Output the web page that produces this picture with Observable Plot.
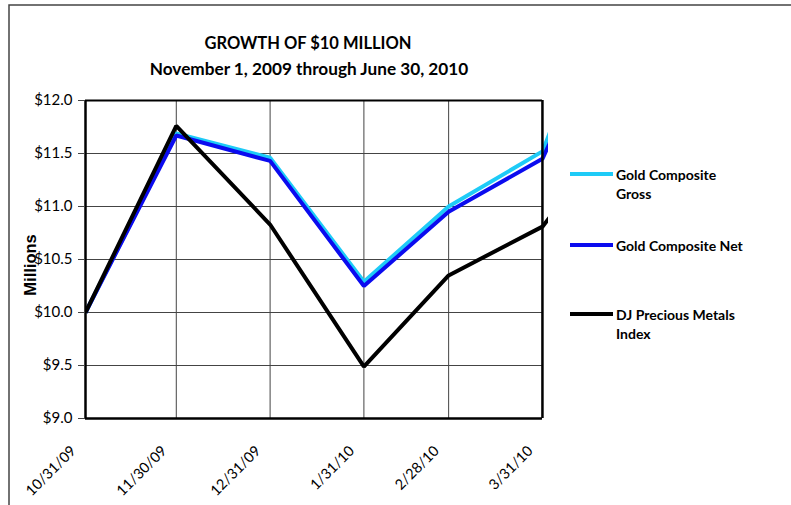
<!DOCTYPE html>
<html><head><meta charset="utf-8">
<script src="https://cdn.jsdelivr.net/npm/d3@7"></script>
<script src="https://cdn.jsdelivr.net/npm/@observablehq/plot@0.6"></script>
<style>
html,body{margin:0;padding:0;background:#fff;} svg{display:block}
#chart g[aria-label="y-axis tick label"], #chart g[aria-label="y-axis tick label"] text { font-size: 15px !important; }
#chart g[aria-label="x-axis tick label"], #chart g[aria-label="x-axis tick label"] text { font-size: 14.5px !important; }
</style>
</head><body><div id="chart"></div>
<script>
// ---- data ----
const dates = ["2009-10-31","2009-11-30","2009-12-31","2010-01-31","2010-02-28","2010-03-31","2010-04-30"];
const tickDates = ["2009-10-31","2009-11-30","2009-12-31","2010-01-31","2010-02-28","2010-03-31"];
const goldGross  = [10.00, 11.69, 11.46, 10.29, 11.00, 11.52, 13.7];
const goldNet    = [10.00, 11.67, 11.43, 10.25, 10.95, 11.45, 13.3];
const djPrecious = [10.00, 11.76, 10.83, 9.49, 10.35, 10.81, 11.9];
const seriesNames = ["Gold Composite Gross", "Gold Composite Net", "DJ Precious Metals Index"];
const seriesColors = ["#1ECBF7", "#0B0BEF", "#000000"];
const legendLines = [["Gold Composite", "Gross"], ["Gold Composite Net"], ["DJ Precious Metals", "Index"]];
const yTicks = [9.0, 9.5, 10.0, 10.5, 11.0, 11.5, 12.0];
const titleText = "GROWTH OF $10 MILLION";
const subtitleText = "November 1, 2009 through June 30, 2010";
const yLabel = "Millions";

// ---- build ----
const parse = d3.utcParse("%Y-%m-%d");
const allValues = [goldGross, goldNet, djPrecious];
const rows = [];
seriesNames.forEach((s, k) => dates.forEach((d, i) => rows.push({date: parse(d), value: allValues[k][i], series: s})));
const ticks = tickDates.map(parse);
const x0 = ticks[0], x1 = ticks[ticks.length - 1];
const xEnd = d3.utcDay.offset(x1, 2);
const yMin = yTicks[0], yMax = yTicks[yTicks.length - 1];

const plot = Plot.plot({
  width: 791, height: 505,
  marginLeft: 85, marginRight: 243, marginTop: 100, marginBottom: 87,
  style: {fontFamily: "Lato, 'Open Sans', sans-serif", fontSize: "15px", color: "#000", background: "#fff", overflow: "visible"},
  x: {type: "utc", domain: [x0, xEnd]},
  y: {domain: [yMin, yMax]},
  color: {domain: seriesNames, range: seriesColors},
  marks: [
    Plot.ruleY(yTicks, {y: d => d, x1: () => x0, x2: () => x1, stroke: "#444", strokeWidth: 1}),
    Plot.ruleX(ticks, {x: d => d, y1: yMin, y2: yMax, stroke: "#444", strokeWidth: 1}),
    Plot.line(rows, {x: "date", y: "value", z: "series", stroke: "series", strokeWidth: 4,
      strokeLinejoin: "miter", strokeLinecap: "butt", clip: true}),
    Plot.ruleY([yMax], {x1: () => x0, x2: () => x1, stroke: "#000", strokeWidth: 2}),
    Plot.ruleY([yMin], {x1: () => x0, x2: () => x1, stroke: "#000", strokeWidth: 2.5}),
    Plot.ruleX([x0, x1], {y1: yMin, y2: yMax, stroke: "#000", strokeWidth: 2.5}),
    Plot.axisY(yTicks, {tickSize: 7, tickPadding: 6, tickFormat: d => "$" + d.toFixed(1), label: null, stroke: "#444", fontSize: 15}),
    Plot.axisX(ticks, {tickSize: 0, tickRotate: -45, tickPadding: 30, dx: -12, tickFormat: d3.utcFormat("%-m/%-d/%y"), label: null, fontSize: 15})
  ]
});
document.getElementById("chart").appendChild(plot);

const svg = d3.select(plot);
// outer chart border
svg.append("path").attr("d", "M9,505V5H791").attr("fill", "none").attr("stroke", "#444").attr("stroke-width", 1.5);
// titles
svg.append("text").attr("x", 308).attr("y", 45).attr("text-anchor", "middle").attr("dominant-baseline", "middle")
  .style("font", "bold 16.5px Lato, sans-serif").text(titleText);
svg.append("text").attr("x", 309).attr("y", 71).attr("text-anchor", "middle").attr("dominant-baseline", "middle")
  .style("font", "bold 17.2px Lato, sans-serif").text(subtitleText);
// y label
svg.append("text").attr("transform", "translate(32,265) rotate(-90)").attr("text-anchor", "middle").attr("dominant-baseline", "middle")
  .style("font", "bold 16.5px 'Liberation Sans', Arial, sans-serif").text(yLabel);
// legend
const legendY = [174, 245, 314];
seriesNames.forEach((s, k) => {
  svg.append("line").attr("x1", 570).attr("x2", 613).attr("y1", legendY[k]).attr("y2", legendY[k])
    .attr("stroke", seriesColors[k]).attr("stroke-width", 4);
  legendLines[k].forEach((t, j) => {
    svg.append("text").attr("x", 616).attr("y", legendY[k] + 2 + j * 19).attr("dominant-baseline", "middle")
      .attr("text-anchor", "start").style("font", "bold 14px Lato, sans-serif").text(t);
  });
});
</script>
</body></html>
